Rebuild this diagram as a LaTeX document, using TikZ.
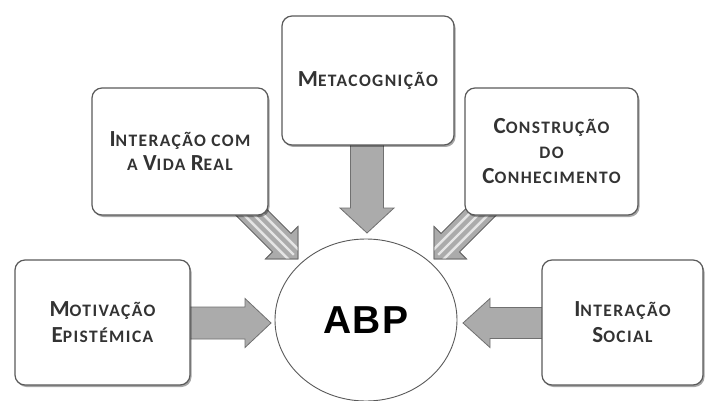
\documentclass[tikz,border=0pt]{standalone}
\usepackage{fontspec}
\setmainfont{Carlito}
\newfontfamily\abpfont[LetterSpace=3]{Liberation Sans}
\newfontfamily\scfont[LetterSpace=8]{Carlito}
\usetikzlibrary{shapes.geometric,shadows}
\definecolor{txt}{HTML}{333333}
\definecolor{bordc}{HTML}{5A5A5A}
\definecolor{arrfill}{HTML}{ABABAB}
\definecolor{arrline}{HTML}{707070}
\newcommand\capB[1]{{\fontsize{23}{24}\selectfont #1}}
\newcommand\capS[1]{{\fontsize{17.5}{24}\selectfont #1}}
% tip coord, angle, Lh, wh, wb, Lb, striped?
\newcommand\blockarrow[7]{%
  \begin{scope}[shift={(#1)},rotate=#2]
    \path[arrst] (0,0) -- (-#3,#4) -- (-#3,#5) -- (-#6,#5) -- (-#6,-#5) -- (-#3,-#5) -- (-#3,-#4) -- cycle;
    \ifnum#7=1
      \begin{scope}
        \clip (0,0) -- (-#3,#4) -- (-#3,#5) -- (-#6,#5) -- (-#6,-#5) -- (-#3,-#5) -- (-#3,-#4) -- cycle;
        \foreach \yy in {-7,0,7}{\draw[white,opacity=0.7,line width=2.4pt] (-#6,\yy) -- (-6,\yy);}
      \end{scope}
      \path[draw=arrline,line width=0.8pt] (0,0) -- (-#3,#4) -- (-#3,#5) -- (-#6,#5) -- (-#6,-#5) -- (-#3,-#5) -- (-#3,-#4) -- cycle;
    \fi
  \end{scope}}
\begin{document}
\begin{tikzpicture}[x=1pt,y=-1pt,
  arrst/.style={fill=arrfill,draw=arrline,line width=0.8pt,line join=miter},
  boxst/.style={draw=bordc,line width=1.2pt,rounded corners=10pt,fill=white,
    drop shadow={shadow xshift=1.5pt,shadow yshift=-2pt,opacity=0.35,fill=black},
    align=center,text=txt,font=\scfont\bfseries\fontsize{17.5}{24}\selectfont,inner sep=0pt},
  hubst/.style={ellipse,draw=bordc,line width=0.9pt,fill=white,inner sep=0pt}]
\useasboundingbox (0,0) rectangle (707,401);
\fill[white] (0,0) rectangle (707,401);
% arrow tips
\coordinate (tipL) at (271,323);
\coordinate (tipR) at (463,323);
\coordinate (tipM) at (367,233);
\coordinate (tipDL) at (298,259);
\coordinate (tipDR) at (434,259);
\blockarrow{tipL}{0}{26}{24.5}{16}{90}{0}
\blockarrow{tipR}{180}{27}{24.5}{15.5}{88}{0}
\blockarrow{tipM}{-90}{25}{27}{16.5}{96}{0}
\blockarrow{tipDL}{-45}{23}{23}{13}{95}{1}
\blockarrow{tipDR}{-135}{23}{23}{13}{95}{1}
% boxes
\node[boxst,minimum width=172pt,minimum height=129pt] (meta) at (368,80.5)
  {\capB{M}\capS{ETACOGNIÇÃO}};
\node[boxst,minimum width=176pt,minimum height=127pt] (vida) at (180,151.5)
  {\capB{I}\capS{NTERAÇÃO COM}\\\capS{A }\capB{V}\capS{IDA }\capB{R}\capS{EAL}};
\node[boxst,minimum width=173pt,minimum height=127pt] (cons) at (551.5,151.5)
  {\capB{C}\capS{ONSTRUÇÃO}\\[1pt]\capS{DO}\\[1pt]\capB{C}\capS{ONHECIMENTO}};
\node[boxst,minimum width=175pt,minimum height=125pt] (mot) at (102.5,322.5)
  {\capB{M}\capS{OTIVAÇÃO}\\[2pt]\capB{E}\capS{PISTÉMICA}};
\node[boxst,minimum width=161pt,minimum height=125pt] (soc) at (622.5,322.5)
  {\capB{I}\capS{NTERAÇÃO}\\[2pt]\capB{S}\capS{OCIAL}};
% hub
\node[hubst,minimum width=182pt,minimum height=162pt,font=\abpfont\bfseries\fontsize{39}{40}\selectfont] (abp) at (366,320) {ABP};
\end{tikzpicture}
\end{document}
